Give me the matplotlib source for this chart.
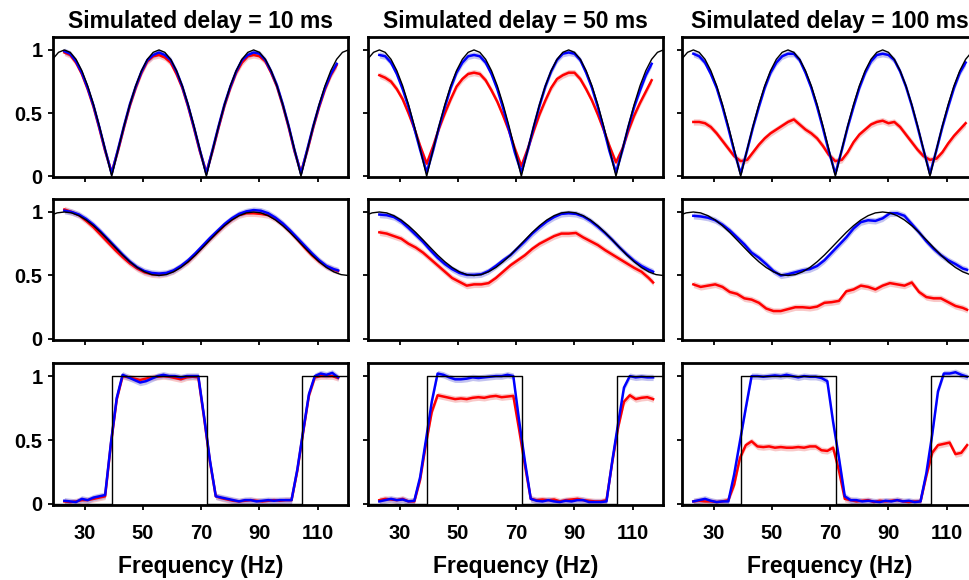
import matplotlib
matplotlib.use('Agg')
import matplotlib.pyplot as plt
import numpy as np

plt.rcParams['font.family'] = ['Liberation Sans', 'DejaVu Sans']
plt.rcParams['font.weight'] = 'bold'

# ---------------- data ----------------
DELAYS = [10, 50, 100]
XTICKS = [30, 50, 70, 90, 110]
XTICK_LABELS = ['30', '50', '70', '90', '110']
YTICKS = [0, 0.5, 1]
YTICK_LABELS = ['0', '0.5', '1']

# Row 1: comb (|cos|) spectra
F1 = [23, 25, 27, 29, 31, 33, 35, 37, 39.25, 41.5, 43.5, 45.5, 47.5, 49.5, 51.5, 53.5,
      55.5, 57.5, 59.5, 61.5, 63.5, 65.5, 67.5, 69.5, 71.75, 74, 76, 78, 80, 82, 84, 86,
      88, 90, 92, 94, 96, 98, 100, 102, 104.25, 106.5, 108.5, 110.5, 112.5, 114.5, 116.5]
IDEAL_COMB_X = [19.1, 21] + F1 + [118.5, 120.5]
IDEAL_COMB_Y = [0.93, 0.981,
                1, .981, .926, .836, .716, .568, .399, .216, 0,
                .216, .399, .568, .716, .836, .926, .981, 1, .981, .926, .836, .716, .568, .399, .216, 0,
                .216, .399, .568, .716, .836, .926, .981, 1, .981, .926, .836, .716, .568, .399, .216, 0,
                .216, .399, .568, .716, .836, .926,
                0.981, 1.0]
BLUE_COMB_10 = [0.99, 0.97, 0.91, 0.82, 0.70, 0.56, 0.39, 0.21, 0.02, 0.22, 0.40, 0.57, 0.71, 0.83, 0.92, 0.96,
                0.98, 0.96, 0.92, 0.83, 0.71, 0.56, 0.39, 0.21, 0.02, 0.22, 0.40, 0.57, 0.71, 0.83, 0.92, 0.96,
                0.98, 0.97, 0.92, 0.83, 0.72, 0.57, 0.40, 0.21, 0.02, 0.22, 0.40, 0.56, 0.70, 0.81, 0.89]
RED_COMB_10 = [0.98, 0.96, 0.90, 0.81, 0.69, 0.55, 0.38, 0.20, 0.03, 0.21, 0.39, 0.56, 0.70, 0.82, 0.91, 0.95,
               0.96, 0.94, 0.90, 0.81, 0.70, 0.55, 0.38, 0.20, 0.03, 0.21, 0.39, 0.56, 0.70, 0.82, 0.90, 0.95,
               0.96, 0.95, 0.91, 0.82, 0.71, 0.56, 0.39, 0.20, 0.03, 0.21, 0.39, 0.55, 0.69, 0.80, 0.88]
BLUE_COMB_50 = [0.96, 0.95, 0.90, 0.81, 0.69, 0.55, 0.38, 0.21, 0.03, 0.21, 0.39, 0.55, 0.70, 0.82, 0.90, 0.95,
                0.96, 0.95, 0.90, 0.81, 0.69, 0.54, 0.37, 0.19, 0.03, 0.21, 0.39, 0.56, 0.71, 0.83, 0.92, 0.97,
                0.98, 0.97, 0.92, 0.82, 0.70, 0.55, 0.38, 0.20, 0.03, 0.21, 0.39, 0.55, 0.68, 0.80, 0.89]
RED_COMB_50 = [0.80, 0.78, 0.75, 0.69, 0.61, 0.50, 0.38, 0.24, 0.10, 0.24, 0.38, 0.50, 0.61, 0.71, 0.77, 0.81,
               0.82, 0.81, 0.76, 0.68, 0.59, 0.48, 0.36, 0.22, 0.08, 0.22, 0.36, 0.49, 0.60, 0.70, 0.77, 0.80,
               0.82, 0.82, 0.77, 0.69, 0.60, 0.49, 0.37, 0.24, 0.11, 0.22, 0.36, 0.48, 0.58, 0.67, 0.76]
BLUE_COMB_100 = [0.97, 0.95, 0.90, 0.81, 0.70, 0.55, 0.38, 0.20, 0.02, 0.21, 0.39, 0.55, 0.70, 0.82, 0.90, 0.95,
                 0.97, 0.97, 0.92, 0.82, 0.70, 0.55, 0.38, 0.20, 0.02, 0.21, 0.39, 0.55, 0.70, 0.82, 0.91, 0.96,
                 0.97, 0.96, 0.92, 0.83, 0.71, 0.56, 0.39, 0.21, 0.02, 0.21, 0.39, 0.55, 0.70, 0.82, 0.90]
RED_COMB_100 = [0.43, 0.43, 0.42, 0.39, 0.34, 0.28, 0.22, 0.16, 0.12, 0.13, 0.19, 0.25, 0.30, 0.34, 0.37, 0.40,
                0.43, 0.45, 0.41, 0.37, 0.34, 0.30, 0.24, 0.17, 0.12, 0.13, 0.19, 0.27, 0.33, 0.37, 0.41, 0.43,
                0.44, 0.42, 0.43, 0.39, 0.33, 0.27, 0.21, 0.16, 0.13, 0.14, 0.19, 0.26, 0.32, 0.37, 0.42]

# Row 2: raised-cosine spectra
F2 = [23, 25.5, 28, 30.5, 33, 35.5, 38, 40.5, 43, 45.5, 48, 50.5, 53, 55.5, 58, 60.5, 63, 65.5, 68, 70.5,
      73, 75.5, 78, 80.5, 83, 85.5, 88, 90.5, 93, 95.5, 98, 100.5, 103, 105.5, 108, 110.5, 113, 115.5, 117]
IDEAL_COS_X = [18, 20.5, 23, 25.5, 28, 30.5, 33, 35.5, 38, 40.5, 43, 45.5, 48, 50.5, 53, 55.5, 58, 60.5,
               63, 65.5, 68, 70.5, 73, 75.5, 78, 80.5, 83, 85.5, 88, 90.5, 93, 95.5, 98, 100.5, 103, 105.5,
               108, 110.5, 113, 115.5, 118, 120.5]
IDEAL_COS_Y = [0.971, 0.993, 1.0, 0.993, 0.971, 0.937, 0.892, 0.839, 0.780, 0.720, 0.661, 0.608, 0.563,
               0.529, 0.507, 0.500, 0.507, 0.529, 0.563, 0.608, 0.661, 0.720, 0.780, 0.839, 0.892, 0.937,
               0.971, 0.993, 1.0, 0.993, 0.971, 0.937, 0.892, 0.839, 0.780, 0.720, 0.661, 0.608, 0.563,
               0.529, 0.507, 0.500]
BLUE_COS_10 = [1.01, 1.0, 0.98, 0.945, 0.90, 0.845, 0.785, 0.725, 0.665, 0.61, 0.565, 0.535, 0.52, 0.515,
               0.52, 0.54, 0.575, 0.62, 0.675, 0.735, 0.795, 0.85, 0.905, 0.95, 0.985, 1.005, 1.015, 1.01,
               0.99, 0.955, 0.91, 0.855, 0.795, 0.735, 0.675, 0.62, 0.575, 0.55, 0.54]
RED_COS_10 = [1.02, 1.0, 0.975, 0.93, 0.88, 0.82, 0.76, 0.70, 0.645, 0.595, 0.555, 0.525, 0.51, 0.505,
              0.515, 0.535, 0.57, 0.61, 0.665, 0.725, 0.785, 0.84, 0.895, 0.94, 0.975, 0.99, 0.99, 0.985,
              0.975, 0.945, 0.90, 0.845, 0.785, 0.72, 0.66, 0.61, 0.57, 0.545, 0.535]
BLUE_COS_50 = [0.98, 0.975, 0.96, 0.925, 0.875, 0.82, 0.765, 0.70, 0.64, 0.59, 0.55, 0.52, 0.505, 0.505,
               0.51, 0.535, 0.575, 0.62, 0.66, 0.715, 0.77, 0.83, 0.88, 0.925, 0.96, 0.985, 0.99, 0.985,
               0.965, 0.93, 0.885, 0.835, 0.78, 0.72, 0.665, 0.615, 0.575, 0.545, 0.53]
RED_COS_50 = [0.84, 0.83, 0.81, 0.79, 0.75, 0.72, 0.68, 0.63, 0.58, 0.53, 0.48, 0.45, 0.42, 0.43, 0.43,
              0.44, 0.48, 0.53, 0.58, 0.62, 0.66, 0.71, 0.75, 0.78, 0.81, 0.83, 0.83, 0.835, 0.80, 0.77,
              0.74, 0.70, 0.665, 0.63, 0.595, 0.56, 0.53, 0.48, 0.445]
BLUE_COS_100 = [0.97, 0.965, 0.955, 0.935, 0.90, 0.855, 0.80, 0.745, 0.68, 0.64, 0.59, 0.535, 0.50, 0.51,
                0.525, 0.54, 0.55, 0.575, 0.62, 0.68, 0.74, 0.80, 0.87, 0.92, 0.935, 0.93, 0.95, 0.99,
                0.99, 0.97, 0.905, 0.84, 0.77, 0.71, 0.66, 0.62, 0.59, 0.555, 0.545]
RED_COS_100 = [0.43, 0.41, 0.42, 0.43, 0.41, 0.37, 0.355, 0.32, 0.31, 0.285, 0.24, 0.22, 0.22, 0.235,
               0.25, 0.25, 0.245, 0.255, 0.285, 0.29, 0.30, 0.375, 0.39, 0.42, 0.41, 0.39, 0.42, 0.44,
               0.43, 0.42, 0.445, 0.37, 0.33, 0.32, 0.32, 0.29, 0.26, 0.245, 0.23]

# Row 3: rectangular (band-pass) spectra
F3 = [23, 25, 27, 29, 31, 33, 35, 37, 39, 41, 43, 45, 47, 49, 51, 53, 55, 57, 59, 61, 63, 65, 67, 69,
      71, 73, 75, 77, 79, 81, 83, 85, 87, 89, 91, 93, 95, 97, 99, 101, 103, 105, 107, 109, 111, 113, 115, 117]
IDEAL_RECT_X = [19.1, 39.2, 39.2, 71.9, 71.9, 104.5, 104.5, 120.5]
IDEAL_RECT_Y = [0, 0, 1, 1, 0, 0, 1, 1]
BLUE_RECT_10 = [0.025, 0.02, 0.015, 0.04, 0.03, 0.05, 0.06, 0.07, 0.48, 0.83, 1.01, 0.99, 0.97, 0.95, 0.96, 0.98,
                1.0, 1.01, 1.0, 1.0, 0.99, 1.0, 1.0, 1.0, 0.68, 0.34, 0.06, 0.05, 0.04, 0.03, 0.02, 0.03,
                0.03, 0.02, 0.025, 0.03, 0.025, 0.03, 0.03, 0.03, 0.27, 0.57, 0.86, 1.0, 1.02, 1.01, 1.025, 0.99]
RED_RECT_10 = [0.02, 0.015, 0.02, 0.03, 0.03, 0.04, 0.05, 0.06, 0.47, 0.82, 1.0, 0.99, 0.98, 0.97, 0.98, 0.99,
               0.995, 1.0, 0.995, 0.985, 0.975, 0.99, 0.995, 0.99, 0.67, 0.33, 0.06, 0.045, 0.035, 0.025, 0.02, 0.025,
               0.03, 0.025, 0.02, 0.025, 0.03, 0.025, 0.03, 0.03, 0.26, 0.56, 0.85, 0.99, 1.0, 1.0, 1.0, 0.985]
BLUE_RECT_50 = [0.02, 0.03, 0.04, 0.03, 0.035, 0.02, 0.025, 0.21, 0.50, 0.80, 1.02, 1.01, 0.99, 0.975, 0.975, 0.98,
                0.99, 0.985, 0.99, 0.995, 1.0, 1.0, 1.01, 1.0, 0.65, 0.33, 0.04, 0.025, 0.02, 0.03, 0.02, 0.015,
                0.025, 0.02, 0.03, 0.03, 0.015, 0.015, 0.015, 0.02, 0.34, 0.63, 0.91, 1.0, 0.99, 0.995, 0.99, 0.99]
RED_RECT_50 = [0.03, 0.04, 0.035, 0.03, 0.04, 0.02, 0.02, 0.19, 0.47, 0.72, 0.85, 0.84, 0.83, 0.82, 0.825, 0.82,
               0.83, 0.835, 0.83, 0.84, 0.845, 0.835, 0.84, 0.845, 0.58, 0.30, 0.04, 0.03, 0.035, 0.03, 0.035, 0.02,
               0.03, 0.035, 0.04, 0.03, 0.025, 0.02, 0.02, 0.03, 0.33, 0.60, 0.80, 0.85, 0.82, 0.83, 0.835, 0.82]
BLUE_RECT_100 = [0.02, 0.03, 0.04, 0.025, 0.015, 0.02, 0.02, 0.23, 0.49, 0.75, 1.0, 1.0, 0.995, 1.0, 1.005, 1.0,
                 1.01, 1.0, 0.99, 1.0, 0.995, 0.995, 0.985, 0.96, 0.64, 0.36, 0.06, 0.03, 0.03, 0.02, 0.025, 0.02,
                 0.015, 0.025, 0.02, 0.03, 0.02, 0.025, 0.015, 0.02, 0.24, 0.54, 0.88, 1.02, 1.02, 1.03, 1.01, 0.995]
RED_RECT_100 = [0.02, 0.025, 0.02, 0.02, 0.015, 0.02, 0.03, 0.15, 0.36, 0.46, 0.49, 0.45, 0.445, 0.45, 0.44, 0.445,
                0.44, 0.44, 0.445, 0.44, 0.45, 0.45, 0.42, 0.415, 0.44, 0.26, 0.04, 0.03, 0.02, 0.025, 0.03, 0.015,
                0.025, 0.02, 0.025, 0.03, 0.02, 0.015, 0.02, 0.02, 0.22, 0.40, 0.46, 0.47, 0.48, 0.39, 0.40, 0.46]

ROWS = [
    (F1, IDEAL_COMB_X, IDEAL_COMB_Y, [BLUE_COMB_10, BLUE_COMB_50, BLUE_COMB_100],
     [RED_COMB_10, RED_COMB_50, RED_COMB_100]),
    (F2, IDEAL_COS_X, IDEAL_COS_Y, [BLUE_COS_10, BLUE_COS_50, BLUE_COS_100],
     [RED_COS_10, RED_COS_50, RED_COS_100]),
    (F3, IDEAL_RECT_X, IDEAL_RECT_Y, [BLUE_RECT_10, BLUE_RECT_50, BLUE_RECT_100],
     [RED_RECT_10, RED_RECT_50, RED_RECT_100]),
]
BAND_HALF = 0.025

# ---------------- layout ----------------
W, H = 970, 580
fig = plt.figure(figsize=(W / 100, H / 100), dpi=100)
col_left = [53, 368, 682]
col_w = 295
row_top = [37.3, 199.3, 363.3]
row_bot = [177.3, 340.0, 505.0]

BLUE = '#0000ff'
RED = '#ff0000'
BLUE_BAND = '#9a9ae6'
RED_BAND = '#f5a3a3'

for r, (fx, ix, iy, blues, reds) in enumerate(ROWS):
    for c in range(3):
        ax = fig.add_axes([col_left[c] / W, 1 - row_bot[r] / H, col_w / W,
                           (row_bot[r] - row_top[r]) / H])
        x = np.array(fx)
        b = np.array(blues[c])
        rd = np.array(reds[c])
        ax.fill_between(x, rd - BAND_HALF, rd + BAND_HALF, color=RED_BAND, alpha=0.6, lw=0, zorder=1)
        ax.fill_between(x, b - BAND_HALF, b + BAND_HALF, color=BLUE_BAND, alpha=0.6, lw=0, zorder=1)
        ax.plot(x, rd, color=RED, lw=1.8, zorder=2)
        ax.plot(x, b, color=BLUE, lw=1.8, zorder=3)
        ax.plot(ix, iy, color='black', lw=1.0, zorder=4)
        ax.set_xlim(19.1, 120.4)
        ax.set_ylim(-0.008, 1.1)
        ax.set_xticks(XTICKS)
        ax.set_yticks(YTICKS)
        for s in ax.spines.values():
            s.set_linewidth(2.0)
        ax.tick_params(direction='out', length=3.5, width=1.3, labelsize=14.5)
        ax.tick_params(axis='x', pad=10)
        ax.tick_params(axis='y', pad=4)
        if c == 0:
            ax.set_yticklabels(YTICK_LABELS, fontweight='bold')
        else:
            ax.set_yticklabels([])
        if r == 2:
            ax.set_xticklabels(XTICK_LABELS, fontweight='bold')
            ax.set_xlabel('Frequency (Hz)', fontsize=16.5, fontweight='bold', labelpad=9)
        else:
            ax.set_xticklabels([])
        if r == 0:
            ax.set_title(f'Simulated delay = {DELAYS[c]} ms', fontsize=16.5,
                         fontweight='bold', pad=7)

fig.savefig('out.png', dpi=100)
